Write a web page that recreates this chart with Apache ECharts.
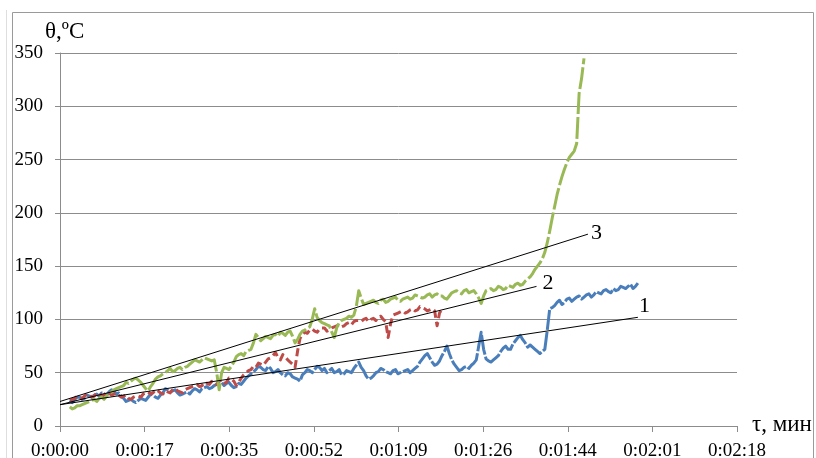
<!DOCTYPE html>
<html>
<head>
<meta charset="utf-8">
<script src="https://cdn.jsdelivr.net/npm/echarts@6/dist/echarts.min.js"></script>
<style>
  html, body { margin: 0; padding: 0; background: #fff; }
  #chart { width: 816px; height: 458px; }
</style>
</head>
<body>
<div id="chart"></div>
<script>
// Time axis: seconds, ticks every 17.28 s (Excel time step), labelled h:mm:ss
const tickLabels = ['0:00:00', '0:00:17', '0:00:35', '0:00:52', '0:01:09',
                    '0:01:26', '0:01:44', '0:02:01', '0:02:18'];
const tickStep = 17.28;

// Temperature records, one reading every half second starting at the given second.
// Each pair: reading at t, reading at t + 0.5
const sampleStep = 0.5;

const curve1Start = 2;
const curve1 = [
  24,22, 25,27, 27,25, 26,29, 28,27, 29,30, 28,31, 30,29,       // 2-9
  32,34, 33,30, 31,28, 26,23, 24,25, 23,22, 24,26, 25,24,       // 10-17
  27,30, 29,27, 26,29, 31,35, 34,32, 33,34, 31,29, 30,31,       // 18-25
  32,30, 33,35, 34,32, 35,36, 37,35, 36,38, 39,42, 41,38,       // 26-33
  40,41, 38,36, 37,40, 39,42, 45,47, 49,51, 53,56, 55,53,       // 34-41
  52,56, 54,50, 51,53, 50,48, 47,50, 49,46, 45,44, 42,48,       // 42-49
  50,53, 52,50, 53,56, 55,52, 54,50, 52,54, 50,51, 53,48,       // 50-57
  49,52, 51,50, 54,57, 60,55, 52,47, 44,45, 47,50, 51,54,       // 58-65
  53,51, 50,49, 52,53, 49,50, 51,52, 53,50, 52,54, 56,60,       // 66-73
  63,66, 68,64, 60,57, 58,61, 66,70, 75,68, 62,58, 55,52,       // 74-81
  53,55, 56,54, 57,59, 62,75, 88,72, 63,61, 60,62, 64,66,       // 82-89
  70,73, 75,72, 72,77, 80,83, 85,81, 78,74, 76,74, 72,70,       // 90-97
  68,70, 72,90, 110,111, 113,116, 118,114, 116,119, 120,117, 119,121,   // 98-105
  122,119, 121,123, 124,121, 123,126, 125,124, 127,128, 126,125, 129,127, // 106-113
  128,131, 130,129, 131,133, 129,131, 134                       // 114-118
];

const curve2Start = 2;
const curve2 = [
  24,25, 26,28, 27,26, 28,30, 29,27, 28,31, 30,28, 29,32,       // 2-9
  31,29, 30,31, 29,27, 28,29, 26,25, 27,28, 28,27, 30,31,       // 10-17
  32,30, 31,34, 33,31, 30,33, 32,31, 34,35, 33,32, 31,34,       // 18-25
  35,36, 37,38, 39,37, 38,41, 40,39, 42,40, 39,42, 43,40,       // 26-33
  41,45, 44,42, 38,41, 45,48, 50,52, 53,56, 55,59, 58,57,       // 34-41
  60,63, 64,66, 69,64, 62,67, 65,62, 60,58, 55,70, 82,86,       // 42-49
  88,87, 90,91, 89,88, 91,92, 92,89, 90,92, 93,94, 95,93,       // 50-57
  94,96, 97,95, 98,99, 99,98, 100,101, 98,100, 101,99, 102,103, // 58-65
  100,98, 83,96, 104,105, 106,107, 108,106, 107,109, 110,108, 109,112, // 66-73
  111,110, 108,109, 110,108, 94,106, 110                        // 74-78
];

const curve3Start = 2;
const curve3 = [
  18,16, 17,19, 19,20, 21,22, 23,24, 25,23, 26,27, 25,28,       // 2-9
  30,32, 34,35, 36,37, 38,41, 40,42, 44,45, 43,41, 38,35,       // 10-17
  33,37, 40,44, 46,47, 49,50, 52,54, 51,52, 54,55, 53,55,       // 18-25
  56,58, 60,62, 61,60, 62,64, 63,62, 61,62, 50,34, 50,55,       // 26-33
  54,53, 56,60, 65,67, 68,66, 70,71, 72,78, 86,83, 80,82,       // 34-41
  84,83, 82,85, 86,84, 88,87, 85,88, 89,84, 78,81, 86,89,       // 42-49
  90,92, 93,100, 110,102, 99,97, 96,95, 94,88, 83,92, 97,99,    // 50-57
  100,101, 103,102, 104,112, 127,120, 114,115, 116,117, 118,116, 115,118, // 58-65
  119,116, 117,119, 120,121, 118,117, 119,120, 121,119, 120,123, 122,121, // 66-73
  120,121, 123,124, 121,123, 124,122, 122,120, 119,122, 125,126, 127,125, // 74-81
  124,127, 128,125, 126,127, 124,120, 115,122, 127,128, 129,127, 128,131, // 82-89
  130,128, 129,132, 131,130, 133,134, 132,133, 136,138, 140,143, 147,150, // 90-97
  153,157, 163,172, 183,195, 206,217, 226,234, 241,247, 252,255, 258,265, // 98-105
  312,326, 345                                                   // 106-107
];

// Linear trend lines: [t, θ] end points, with their curve numbers
const trendNames = ['1', '2', '3'];
const trendStart = [[0, 20], [0, 20], [0, 23]];
const trendEnd = [[118, 102], [97.3, 131], [107.8, 180]];

const curveColors = ['#4a7ebb', '#be4b48', '#98b954'];
const curveDash = [[20, 2], [8, 4], [22, 3]];

function toPoints(start, values) {
  return values.map((v, i) => [start + i * sampleStep, v]);
}

const serif = '"Liberation Serif", "Times New Roman", serif';
const gridGray = '#8c8c8c';

const curves = [
  toPoints(curve1Start, curve1),
  toPoints(curve2Start, curve2),
  toPoints(curve3Start, curve3)
];

const series = curves.map((pts, k) => ({
  type: 'line',
  data: pts,
  showSymbol: false,
  symbol: 'none',
  z: 2 + k,
  lineStyle: { color: curveColors[k], width: 3, type: curveDash[k], cap: 'butt', join: 'round' }
}));

const labelOffsets = [[-2, -11], [3, -3], [0, -1]];
trendNames.forEach((name, k) => {
  series.push({
    type: 'line',
    data: [trendStart[k], trendEnd[k]],
    showSymbol: false,
    symbol: 'none',
    z: 10,
    lineStyle: { color: '#000', width: 1 },
    endLabel: {
      show: true,
      distance: 3,
      offset: labelOffsets[k],
      formatter: name,
      fontFamily: serif,
      fontSize: 22,
      color: '#000'
    }
  });
});

const chart = echarts.init(document.getElementById('chart'), null, { renderer: 'canvas' });
chart.setOption({
  animation: false,
  backgroundColor: '#fff',
  grid: { left: 60, right: 79, top: 53, bottom: 32, containLabel: false, outerBoundsMode: 'none' },
  xAxis: {
    type: 'value',
    min: 0,
    max: tickStep * 8,
    interval: tickStep,
    axisLine: { show: true, lineStyle: { color: gridGray, width: 1 } },
    axisTick: { show: true, length: 6, lineStyle: { color: gridGray } },
    splitLine: { show: false },
    axisLabel: {
      margin: 16,
      fontFamily: serif,
      fontSize: 19,
      color: '#000',
      showMaxLabel: true,
      formatter: v => tickLabels[Math.round(v / tickStep)]
    }
  },
  yAxis: {
    type: 'value',
    min: 0,
    max: 350,
    interval: 50,
    axisLine: { show: true, lineStyle: { color: gridGray, width: 1 } },
    axisTick: { show: true, length: 5, lineStyle: { color: gridGray } },
    splitLine: { show: true, lineStyle: { color: gridGray, width: 1 } },
    axisLabel: {
      margin: 17,
      fontFamily: serif,
      fontSize: 19,
      color: '#000'
    }
  },
  graphic: [
    { type: 'line', shape: { x1: 6.5, y1: 10, x2: 6.5, y2: 458 },
      style: { stroke: '#dedede', lineWidth: 1 }, silent: true },
    { type: 'rect', shape: { x: 12.5, y: 12.5, width: 801, height: 460 },
      style: { fill: null, stroke: '#9a9a9a', lineWidth: 1 }, silent: true },
    { type: 'text', left: 45, top: 20,
      style: { text: 'θ,ºC', font: '23px ' + serif, fill: '#000' } },
    { type: 'text', left: 752, top: 413,
      style: { text: 'τ, мин', font: '23px ' + serif, fill: '#000' } }
  ],
  series: series
});
</script>
</body>
</html>
